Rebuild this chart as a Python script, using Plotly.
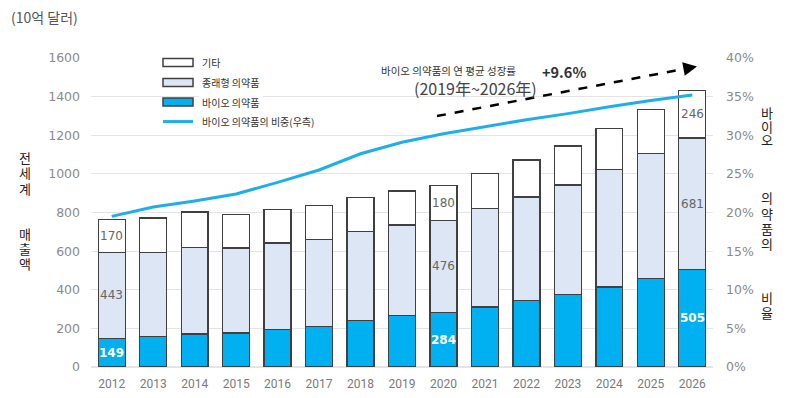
import plotly.graph_objects as go

years = [str(y) for y in range(2012, 2027)]
bio = [149, 158, 171, 176, 193, 210, 241, 265, 284, 310, 344, 375, 414, 460, 505]
conventional = [443, 435, 448, 440, 449, 451, 460, 471, 476, 509, 537, 567, 610, 647, 681]
other = [170, 178, 183, 172, 174, 176, 177, 176, 180, 182, 191, 202, 210, 228, 246]
bio_share = [0.195, 0.207, 0.215, 0.224, 0.239, 0.255, 0.276, 0.291, 0.302, 0.311,
             0.320, 0.328, 0.337, 0.345, 0.352]
labeled_years = ["2012", "2020", "2026"]

y_ticks = [0, 200, 400, 600, 800, 1000, 1200, 1400, 1600]

BLUE = "#00B0F0"
LIGHT = "#DCE6F4"
EDGE = "#404040"
LINE = "#1EAFEA"
KR = "Noto Sans CJK KR"
NUM = "DejaVu Sans"

# page offset (browser body margin)
OFF = 8
W, H = 800 - OFF, 398 - OFF
# target screen-pixel plot box
SX0, SX1, SY0, SY1 = 91, 713, 58, 366.7
L, R, T, B = SX0 - OFF, (800 - SX1), SY0 - OFF, 398 - SY1


def px(x):
    return (x - SX0) / (SX1 - SX0)


def py(y):
    return (SY1 - y) / (SY1 - SY0)


def note(x, y, text, size, color="#333333", xanchor="center", **kw):
    return dict(xref="paper", yref="paper", x=px(x), y=py(y), text=text,
                xanchor=xanchor, yanchor="middle", showarrow=False,
                font=dict(family=KR, size=size, color=color), **kw)


fig = go.Figure()
fig.add_trace(go.Bar(x=years, y=bio, name="바이오 의약품",
                     marker=dict(color=BLUE, line=dict(color=EDGE, width=1.3))))
fig.add_trace(go.Bar(x=years, y=conventional, name="종래형 의약품",
                     marker=dict(color=LIGHT, line=dict(color=EDGE, width=1.3))))
fig.add_trace(go.Bar(x=years, y=other, name="기타",
                     marker=dict(color="white", line=dict(color=EDGE, width=1.3))))
fig.add_trace(go.Scatter(x=years, y=bio_share, yaxis="y2", mode="lines",
                         name="바이오 의약품의 비중(우측)",
                         line=dict(color=LINE, width=3)))

annotations = []
# value labels (x as category index)
for yr in labeled_years:
    i = years.index(yr)
    b, c, o = bio[i], conventional[i], other[i]
    annotations.append(dict(x=i, y=b / 2, text=f"<b>{b}</b>", showarrow=False,
                            xanchor="center", yanchor="middle",
                            font=dict(family=NUM, size=12, color="white")))
    annotations.append(dict(x=i, y=b + c / 2, text=str(c), showarrow=False,
                            xanchor="center", yanchor="middle",
                            font=dict(family=NUM, size=12, color="#666666")))
    annotations.append(dict(x=i, y=b + c + o / 2, text=str(o), showarrow=False,
                            xanchor="center", yanchor="middle",
                            font=dict(family=NUM, size=12, color="#666666")))

# title
annotations.append(note(9, 17, "(10억 달러)", 14, "#555555", xanchor="left"))

# vertical axis titles (one character per line, as in the reference)
for ch, yy in zip("전세계매출액", [157, 172, 188, 233, 248, 263]):
    annotations.append(note(25, yy, ch, 13, "#222222"))
for ch, yy in zip("바이오의약품의비율", [112, 126, 139, 197, 213, 228, 243, 297, 312]):
    annotations.append(note(767, yy, ch, 13, "#222222"))

# legend texts
legend_rows = [("기타", 62.5), ("종래형 의약품", 82.5), ("바이오 의약품", 102), ("바이오 의약품의 비중(우측)", 121.5)]
for txt, yy in legend_rows:
    annotations.append(note(198, yy, txt, 10, "#333333", xanchor="left",
                            bgcolor="white", borderpad=3))

# growth annotation
annotations.append(note(448, 70, "바이오 의약품의 연 평균 성장률", 10.5, "#333333"))
annotations.append(note(564, 71, "<b>+9.6%</b>", 14.5, "#333333"))
annotations.append(note(475, 88, "(2019年~2026年)", 16, "#444444"))
# arrow head
annotations.append(dict(xref="paper", yref="paper", x=px(697), y=py(66.5), ax=-12, ay=2.3,
                        text="", showarrow=True, arrowhead=2, arrowsize=1.1, arrowwidth=2.5,
                        arrowcolor="black"))

shapes = [
    dict(type="line", xref="paper", yref="paper", x0=px(437), y0=py(116), x1=px(690), y1=py(67.8),
         line=dict(color="black", width=2.5, dash="dash"), layer="above"),
    # legend symbols
    dict(type="rect", xref="paper", yref="paper", x0=px(163), x1=px(193), y0=py(66.5), y1=py(58.5),
         fillcolor="white", line=dict(color=EDGE, width=1.5), layer="above"),
    dict(type="rect", xref="paper", yref="paper", x0=px(163), x1=px(193), y0=py(86.5), y1=py(78.5),
         fillcolor=LIGHT, line=dict(color=EDGE, width=1.5), layer="above"),
    dict(type="rect", xref="paper", yref="paper", x0=px(163), x1=px(193), y0=py(106), y1=py(98),
         fillcolor=BLUE, line=dict(color=EDGE, width=1.5), layer="above"),
    dict(type="line", xref="paper", yref="paper", x0=px(163), x1=px(193), y0=py(121.5), y1=py(121.5),
         line=dict(color=LINE, width=3), layer="above"),
]

fig.update_layout(
    width=W, height=H,
    margin=dict(l=L, r=R, t=T, b=B, autoexpand=False),
    barmode="stack", bargap=0.35,
    paper_bgcolor="white", plot_bgcolor="white",
    showlegend=False,
    xaxis=dict(type="category", range=[-0.5, len(years) - 0.5], showgrid=False,
               showline=False, ticks="", automargin=False,
               tickfont=dict(family="Roboto", size=12, color="#7a7a7a"),
               ticklabelstandoff=8),
    yaxis=dict(range=[0, 1600], tickvals=y_ticks, showgrid=True, gridcolor="#e4e4e4",
               gridwidth=1, zeroline=True, zerolinecolor="#e4e4e4", showline=False,
               automargin=False,
               tickfont=dict(family=NUM, size=12.5, color="#8a8a8a"), ticklabelstandoff=10),
    yaxis2=dict(range=[0, 0.4], dtick=0.05, tickformat=".0%", overlaying="y", side="right",
                showgrid=False, zeroline=False, showline=False, automargin=False,
                tickfont=dict(family=NUM, size=12.5, color="#8a8a8a"), ticklabelstandoff=12),
    annotations=annotations,
    shapes=shapes,
)

fig.write_html("out.html")
